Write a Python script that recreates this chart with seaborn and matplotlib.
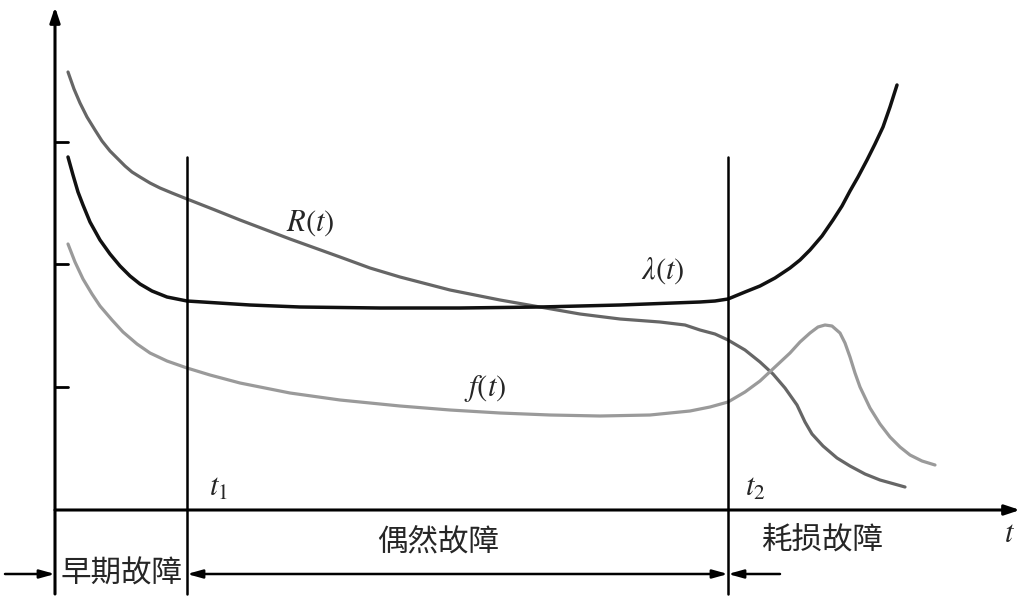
import numpy as np
import pandas as pd
import matplotlib
matplotlib.use("Agg")
import matplotlib.pyplot as plt
import seaborn as sns

# curve readings (t along the axis, value above the t axis)
lam_t = [13, 18, 23, 28, 35, 45, 55, 65, 75, 85, 97, 112, 132, 195, 245, 325, 405, 485,
         565, 645, 660, 673, 690, 705, 720, 735, 745, 755, 767, 778, 787, 795, 803, 812,
         820, 828, 835, 842]
lam_y = [353, 335, 318, 305, 288, 270, 256, 244, 234, 226, 219, 213, 209, 205, 203, 202, 202, 203,
         205, 208, 209, 211, 218, 224, 232, 242, 250, 260, 274, 290, 304, 319, 333, 350,
         366, 383, 403, 425]

rel_t = [13, 19, 25, 32, 40, 47, 55, 63, 70, 77, 85, 95, 105, 117, 132, 160, 185, 235, 285,
         315, 345, 395, 445, 485, 525, 565, 605, 630, 645, 660, 673, 690, 705, 718, 730,
         742, 750, 757, 768, 782, 795, 810, 825, 850]
rel_y = [438, 421, 407, 393, 380, 369, 359, 351, 344, 338, 333, 327, 322, 317, 311, 300, 290, 271, 253,
         242, 233, 220, 210, 203, 196, 191, 188, 185, 180, 176, 170, 160, 148, 136, 122,
         105, 88, 76, 64, 52, 44, 36, 30, 23]

den_t = [13, 20, 28, 37, 45, 57, 68, 82, 95, 112, 132, 155, 185, 235, 285, 345, 395, 445,
         495, 545, 595, 635, 655, 673, 690, 705, 720, 735, 745, 755, 763, 770, 777, 785,
         790, 795, 800, 805, 815, 825, 835, 845, 855, 867, 880]
den_y = [266, 248, 231, 216, 204, 190, 178, 166, 157, 149, 142, 135, 127, 117, 110, 104, 100, 97,
         95, 94, 95, 99, 103, 108, 118, 129, 143, 157, 168, 177, 183, 185, 184, 177,
         167, 153, 137, 123, 102, 86, 73, 63, 55, 49, 45]

t1, t2 = 132, 673
y_ticks = [123, 246, 368]
stage_labels = ["早期故障", "偶然故障", "耗损故障"]

sns.set_style("white")
plt.rcParams['font.family'] = ['Noto Sans CJK SC', 'DejaVu Sans']
plt.rcParams['mathtext.fontset'] = 'stix'

fig = plt.figure(figsize=(10.27, 6.01), dpi=100)
ax = fig.add_axes([0, 0, 1, 1])
ax.set_xlim(-55, 972)
ax.set_ylim(-91, 510)
ax.axis('off')

# curves
sns.lineplot(x=rel_t, y=rel_y, sort=False, color='#666666', lw=2.3, ax=ax)
sns.lineplot(x=lam_t, y=lam_y, sort=False, color='#111111', lw=2.5, ax=ax)
sns.lineplot(x=den_t, y=den_y, sort=False, color='#9a9a9a', lw=2.3, ax=ax)
for ln in ax.lines:
    ln.set_solid_joinstyle('round')

# axes with arrows
arr = dict(arrowstyle='-|>,head_length=0.9,head_width=0.3', color='black', lw=2.2,
           shrinkA=0, shrinkB=0)
ax.annotate('', xy=(0, 503), xytext=(0, -84), arrowprops=arr)
ax.annotate('', xy=(965, 0), xytext=(0, 0), arrowprops=arr)

for yt in y_ticks:
    ax.plot([0, 13], [yt, yt], color='black', lw=2)

# stage boundaries
for tb in (t1, t2):
    ax.plot([tb, tb], [353, -84], color='black', lw=1.8)

# bottom arrows
small = dict(arrowstyle='-|>,head_length=0.9,head_width=0.25', color='black', lw=1.8,
             shrinkA=0, shrinkB=0)
ax.annotate('', xy=(0, -64), xytext=(-50, -64), arrowprops=small)
ax.annotate('', xy=(t1, -64), xytext=(t2, -64),
            arrowprops=dict(small, arrowstyle='<|-|>,head_length=0.9,head_width=0.25'))
ax.annotate('', xy=(t2, -64), xytext=(725, -64), arrowprops=small)

ax.text(67, -64, stage_labels[0], fontsize=22, ha='center', va='center')
ax.text(383, -33, stage_labels[1], fontsize=22, ha='center', va='center')
ax.text(768, -30, stage_labels[2], fontsize=22, ha='center', va='center')

# math labels
ax.text(255, 288, r'$R(t)$', fontsize=22, ha='center', va='center')
ax.text(608, 240, r'$\lambda(t)$', fontsize=22, ha='center', va='center')
ax.text(430, 122, r'$f(t)$', fontsize=22, ha='center', va='center')
ax.text(163, 23, r'$t_1$', fontsize=22, ha='center', va='center')
ax.text(700, 23, r'$t_2$', fontsize=22, ha='center', va='center')
ax.text(955, -23, r'$t$', fontsize=22, ha='center', va='center')

fig.savefig('out.png', dpi=100)
